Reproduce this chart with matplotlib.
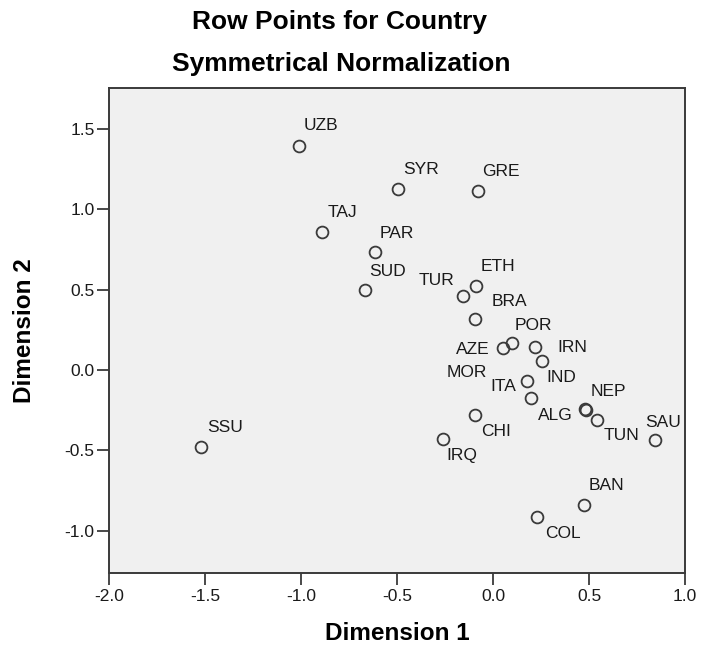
import matplotlib
matplotlib.use("Agg")
import matplotlib.pyplot as plt

# row points
countries = ['UZB', 'SYR', 'GRE', 'TAJ', 'PAR', 'SUD', 'ETH', 'TUR', 'BRA', 'POR', 'AZE', 'IRN',
             'IND', 'MOR', 'ITA', 'NEP', 'ALG', 'TUN', 'SAU', 'CHI', 'IRQ', 'BAN', 'COL', 'SSU']
dim1 = [-1.011, -0.493, -0.077, -0.893, -0.615, -0.667, -0.089, -0.155, -0.094, 0.101, 0.054, 0.219,
        0.254, 0.179, 0.196, 0.479, 0.485, 0.540, 0.844, -0.094, -0.262, 0.476, 0.228, -1.522]
dim2 = [1.396, 1.124, 1.114, 0.861, 0.736, 0.498, 0.523, 0.462, 0.315, 0.166, 0.139, 0.141,
        0.056, -0.067, -0.172, -0.245, -0.250, -0.311, -0.436, -0.280, -0.431, -0.840, -0.913, -0.479]

# label offsets in points (dx, dy), SPSS puts them wherever
offsets = {
    'UZB': (15.5, 14.5), 'SYR': (16, 14), 'GRE': (16, 14), 'TAJ': (15, 14), 'PAR': (16, 13),
    'SUD': (16, 13), 'ETH': (16, 14), 'TUR': (-19, 11), 'BRA': (25, 13), 'POR': (15, 13),
    'AZE': (-22, -1), 'IRN': (27, 0), 'IND': (14, -12), 'MOR': (-44, 6), 'ITA': (-20, 8),
    'NEP': (17, 13), 'ALG': (-22, -4), 'TUN': (18, -11), 'SAU': (6, 13), 'CHI': (15, -12),
    'IRQ': (14, -12), 'BAN': (16, 14), 'COL': (19, -12), 'SSU': (17, 14),
}

plt.rcParams['font.family'] = ['Liberation Sans', 'DejaVu Sans']

fig = plt.figure(figsize=(7.03, 6.5), dpi=100)
ax = fig.add_axes([109.3 / 703, 1 - 573.3 / 650, (685 - 109.3) / 703, (573.3 - 88.3) / 650])
ax.set_facecolor('#f0f0f0')

ax.plot(dim1, dim2, linestyle='none', marker='o', markersize=8.5,
        markerfacecolor='none', markeredgecolor='#3a3a3a', markeredgewidth=1.3)

for name, x, y in zip(countries, dim1, dim2):
    dx, dy = offsets[name]
    ax.annotate(name, (x, y), xytext=(dx, dy), textcoords='offset points',
                ha='center', va='center', fontsize=12.5, color='#1a1a1a')

ax.set_xlim(-2.0, 1.0)
ax.set_ylim(-1.265, 1.753)
ax.set_xticks([-2.0, -1.5, -1.0, -0.5, 0.0, 0.5, 1.0])
ax.set_yticks([-1.0, -0.5, 0.0, 0.5, 1.0, 1.5])
ax.set_xticklabels(['-2.0', '-1.5', '-1.0', '-0.5', '0.0', '0.5', '1.0'])
ax.set_yticklabels(['-1.0', '-0.5', '0.0', '0.5', '1.0', '1.5'])
ax.tick_params(direction='out', length=8.5, width=1.3, color='#3a3a3a',
               labelsize=12.5, labelcolor='#1a1a1a')
ax.tick_params(axis='y', pad=2)
ax.tick_params(axis='x', pad=3)
for side in ax.spines.values():
    side.set_color('#3a3a3a')
    side.set_linewidth(1.4)

ax.set_xlabel('Dimension 1', fontsize=17.5, fontweight='bold')
ax.set_ylabel('Dimension 2', fontsize=17.5, fontweight='bold')
ax.xaxis.set_label_coords(0.5, (573.3 - 634) / 485)
ax.xaxis.label.set_va('center')
ax.yaxis.set_label_coords((25 - 109.3) / 575.7, 0.5)
ax.yaxis.label.set_va('center')

fig.text(340 / 703, 1 - 21.7 / 650, 'Row Points for Country', ha='center', va='center',
         fontsize=19, fontweight='bold')
fig.text(341.5 / 703, 1 - 63.5 / 650, 'Symmetrical Normalization', ha='center', va='center',
         fontsize=19, fontweight='bold')

plt.savefig('out.png', dpi=100)
